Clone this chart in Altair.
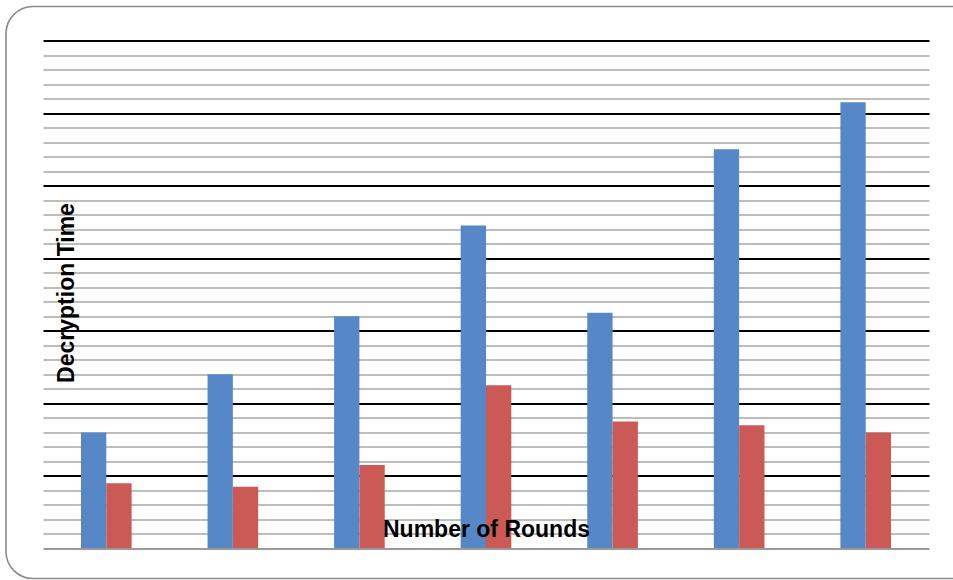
import altair as alt
import pandas as pd

# Rounds on the x axis (labels are not shown on the chart)
rounds = ["1", "2", "3", "4", "5", "6", "7"]
series_names = ["Series 1", "Series 2"]
series1 = [1.60, 2.40, 3.20, 4.45, 3.25, 5.50, 6.15]
series2 = [0.90, 0.85, 1.15, 2.25, 1.75, 1.70, 1.60]
colors = ["#5688C7", "#CB5A56"]

# y gridlines every 0.2 units, whole units drawn darker
grid_values = [round(i * 0.2, 1) for i in range(1, 36)]

rows = []
for r, a, b in zip(rounds, series1, series2):
    rows.append({"round": r, "series": series_names[0], "value": a})
    rows.append({"round": r, "series": series_names[1], "value": b})
df = pd.DataFrame(rows)

FONT = "Liberation Sans"
is_major = "abs(datum.value - round(datum.value)) < 0.000001"

bars = alt.Chart(df).mark_bar().encode(
    x=alt.X(
        "round:N",
        sort=rounds,
        scale=alt.Scale(paddingInner=0.6, paddingOuter=0.3),
        axis=alt.Axis(
            title="Number of Rounds",
            labels=False,
            ticks=False,
            domainColor="#9a9a9a",
            domainWidth=2,
            titleFont=FONT,
            titleFontSize=23,
            titleFontWeight="bold",
            titleColor="#000000",
            titleX=443,
            titleY=-12,
            titleAlign="center",
            titleBaseline="alphabetic",
            zindex=1,
        ),
    ),
    xOffset=alt.XOffset("series:N", sort=series_names, scale=alt.Scale(paddingInner=0, paddingOuter=0)),
    y=alt.Y(
        "value:Q",
        scale=alt.Scale(domain=[0, 7], nice=False),
        axis=alt.Axis(
            title="Decryption Time",
            values=grid_values,
            labels=False,
            ticks=False,
            domain=False,
            grid=True,
            gridColor={"condition": {"test": is_major, "value": "#000000"}, "value": "#bdbdbd"},
            gridWidth={"condition": {"test": is_major, "value": 2.2}, "value": 2.2},
            gridOpacity=1,
            titleFont=FONT,
            titleFontSize=23,
            titleFontWeight="bold",
            titleColor="#000000",
            titleAngle=270,
            titleX=30,
            titleY=252,
            titleAlign="center",
            titleBaseline="alphabetic",
        ),
    ),
    color=alt.Color(
        "series:N",
        sort=series_names,
        scale=alt.Scale(domain=series_names, range=colors),
        legend=None,
    ),
)

# rounded outline around the whole chart
frame = alt.Chart(pd.DataFrame({"k": [0]})).mark_rect(
    fillOpacity=0,
    stroke="#8a8a8a",
    strokeWidth=1.6,
    cornerRadius=27,
).encode(
    x=alt.value(-37),
    x2=alt.value(935),
    y=alt.value(-34),
    y2=alt.value(538),
)

chart = (
    alt.layer(frame, bars)
    .properties(
        width=886,
        height=508,
        padding={"left": 43, "top": 40.5, "right": 24, "bottom": 31.5},
        autosize=alt.AutoSizeParams(type="none"),
        background="#ffffff",
    )
    .configure_view(stroke=None)
)

chart.save("out.html", embed_options={"renderer": "svg", "actions": False})
